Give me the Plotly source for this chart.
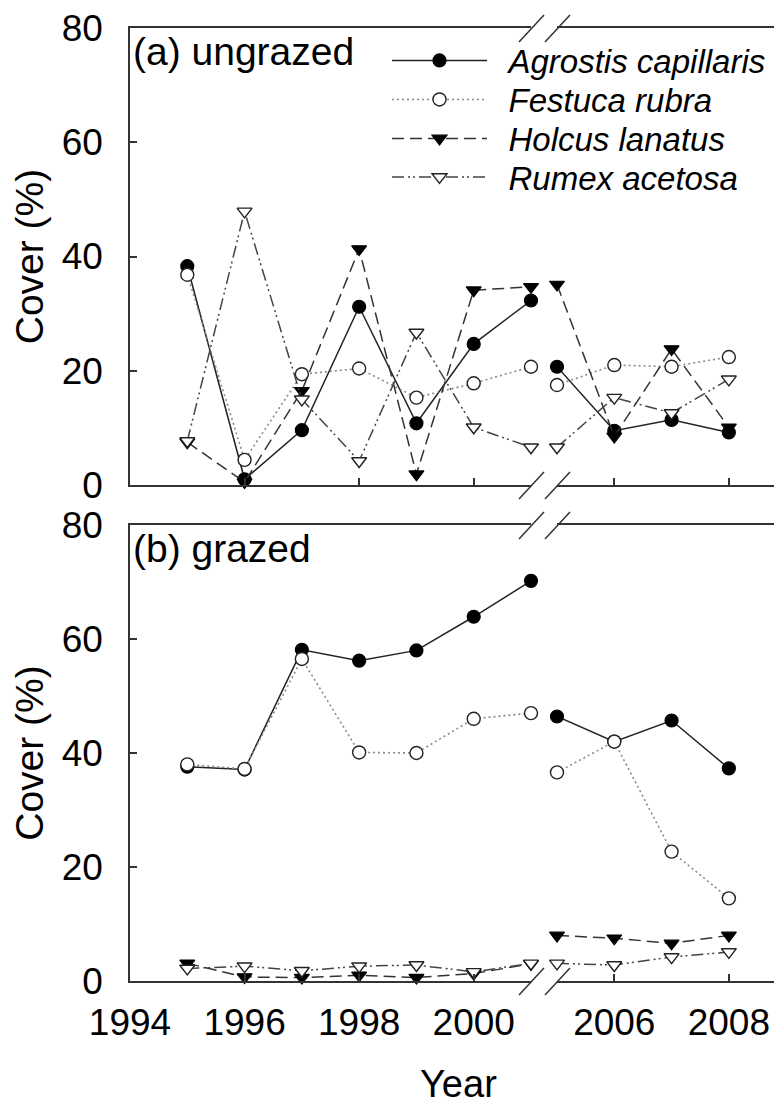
import plotly.graph_objects as go

# ---------------- data ----------------
years_early = [1995, 1996, 1997, 1998, 1999, 2000, 2001]
years_late = [2005, 2006, 2007, 2008]

species = ["Agrostis capillaris", "Festuca rubra", "Holcus lanatus", "Rumex acetosa"]

# (a) ungrazed
agrostis_ung_early = [38.3, 1.0, 9.6, 31.2, 10.8, 24.7, 32.3]
agrostis_ung_late = [20.7, 9.5, 11.4, 9.2]
festuca_ung_early = [36.8, 4.4, 19.4, 20.4, 15.3, 17.8, 20.7]
festuca_ung_late = [17.5, 21.0, 20.7, 22.4]
holcus_ung_early = [7.5, 0.5, 16.5, 41.3, 1.9, 34.1, 34.7]
holcus_ung_late = [35.1, 8.5, 23.8, 10.1]
rumex_ung_early = [7.7, 47.9, 15.0, 4.2, 26.7, 10.1, 6.6]
rumex_ung_late = [6.6, 15.3, 12.6, 18.5]

# (b) grazed
agrostis_gr_early = [37.6, 37.1, 58.1, 56.2, 58.0, 63.9, 70.2]
agrostis_gr_late = [46.4, 42.0, 45.7, 37.3]
festuca_gr_early = [38.0, 37.2, 56.5, 40.1, 40.0, 46.0, 47.0]
festuca_gr_late = [36.6, 42.0, 22.7, 14.5]
holcus_gr_early = [3.1, 0.7, 0.6, 1.0, 0.6, 1.3, 3.0]
holcus_gr_late = [8.0, 7.5, 6.6, 8.0]
rumex_gr_early = [2.2, 2.6, 1.8, 2.6, 2.8, 1.6, 3.1]
rumex_gr_late = [3.1, 2.8, 4.2, 5.1]

x_ticks_early = [1994, 1996, 1998, 2000]
x_ticks_late = [2006, 2008]
y_ticks = [0, 20, 40, 60, 80]

# ---------------- layout geometry ----------------
# the page body has an 8px margin, so the figure is laid out 8px smaller
OFF = 8
VIEW_W, VIEW_H = 782, 1104
W, H = VIEW_W - OFF, VIEW_H - OFF
ref_left, ref_right, ref_top, ref_bottom = 130, 781, 28, 981
L = ref_left - OFF
R = W - (ref_right - OFF)
T = ref_top - OFF
B = H - (ref_bottom - OFF)
PW, PH = W - L - R, H - T - B


def px_x(p):
    """reference-screen pixel x -> paper fraction"""
    return (p - OFF - L) / PW


def px_y(p):
    """reference-screen pixel y -> paper fraction"""
    return (ref_bottom - p) / PH


left_end_px = 531
right_start_px = 557
px_per_year = (left_end_px - ref_left) / 7.0
right_range_end = 2005 + (ref_right - right_start_px) / px_per_year

dom_left = [0, px_x(left_end_px)]
dom_right = [px_x(right_start_px), 1]
dom_a = [px_y(485), 1]
dom_b = [0, px_y(525)]

FONT = "Liberation Sans, Arial, sans-serif"
AX = "#333333"

styles = {
    "Agrostis capillaris": dict(line=dict(color="#222222", width=1.5, dash="solid"),
                                marker=dict(symbol="circle", size=13, color="black",
                                            line=dict(color="black", width=1.2))),
    "Festuca rubra": dict(line=dict(color="#8a8a8a", width=1.6, dash="2px,3px"),
                          marker=dict(symbol="circle", size=13, color="white",
                                      line=dict(color="#222222", width=1.4))),
    "Holcus lanatus": dict(line=dict(color="#333333", width=1.5, dash="12px,6px"),
                           marker=dict(symbol="triangle-down", size=13, color="black",
                                       line=dict(color="black", width=1.2))),
    "Rumex acetosa": dict(line=dict(color="#444444", width=1.5, dash="12px,4px,2px,3px,2px,4px"),
                          marker=dict(symbol="triangle-down", size=13, color="white",
                                      line=dict(color="#222222", width=1.4))),
}

panel_data = {
    "a": {
        "Agrostis capillaris": (agrostis_ung_early, agrostis_ung_late),
        "Festuca rubra": (festuca_ung_early, festuca_ung_late),
        "Holcus lanatus": (holcus_ung_early, holcus_ung_late),
        "Rumex acetosa": (rumex_ung_early, rumex_ung_late),
    },
    "b": {
        "Agrostis capillaris": (agrostis_gr_early, agrostis_gr_late),
        "Festuca rubra": (festuca_gr_early, festuca_gr_late),
        "Holcus lanatus": (holcus_gr_early, holcus_gr_late),
        "Rumex acetosa": (rumex_gr_early, rumex_gr_late),
    },
}

axes_ids = {"a": (("x", "y"), ("x2", "y2")), "b": (("x3", "y3"), ("x4", "y4"))}
legend_ids = ["legend", "legend2", "legend3", "legend4"]

fig = go.Figure()
for panel in ["a", "b"]:
    (xl, yl), (xr, yr) = axes_ids[panel]
    for i, sp in enumerate(species):
        early, late = panel_data[panel][sp]
        st = styles[sp]
        fig.add_trace(go.Scatter(
            x=years_early, y=early, xaxis=xl, yaxis=yl, mode="lines+markers",
            name="\u2002" + sp, line=st["line"], marker=st["marker"], cliponaxis=False,
            showlegend=(panel == "a"), legend=legend_ids[i], hoverinfo="x+y+name"))
        fig.add_trace(go.Scatter(
            x=years_late, y=late, xaxis=xr, yaxis=yr, mode="lines+markers",
            name=sp, line=st["line"], marker=st["marker"], cliponaxis=False,
            showlegend=False, hoverinfo="x+y+name"))

tickfont = dict(family=FONT, size=37, color="black")
common_x = dict(showline=True, linecolor=AX, linewidth=1.5, mirror=True, ticks="inside",
                ticklen=7, tickwidth=1.5, tickcolor=AX, showgrid=False, zeroline=False,
                tickfont=tickfont, ticklabelstandoff=8, ticklabeloverflow="allow")
common_y = dict(range=[0, 80], tickvals=y_ticks, showline=True, linecolor=AX, linewidth=1.5,
                ticks="inside", ticklen=7, tickwidth=1.5, tickcolor=AX, showgrid=False,
                zeroline=False, tickfont=tickfont, ticklabelstandoff=18,
                ticklabeloverflow="allow")
ytitle = dict(text="Cover (%)", font=dict(family=FONT, size=39), standoff=8)
right_y = dict(range=[0, 80], side="right", showline=True, linecolor=AX, linewidth=1.5,
               ticks="", showticklabels=False, showgrid=False, zeroline=False)

layout = dict(
    width=W, height=H, margin=dict(l=L, r=R, t=T, b=B),
    paper_bgcolor="white", plot_bgcolor="white",
    font=dict(family=FONT, color="black"),
    xaxis=dict(domain=dom_left, range=[1994, 2001], tickvals=x_ticks_early, anchor="y",
               showticklabels=False, **common_x),
    xaxis2=dict(domain=dom_right, range=[2005, right_range_end], tickvals=x_ticks_late,
                anchor="y2", showticklabels=False, **common_x),
    xaxis3=dict(domain=dom_left, range=[1994, 2001], tickvals=x_ticks_early, anchor="y3",
                **common_x),
    xaxis4=dict(domain=dom_right, range=[2005, right_range_end], tickvals=x_ticks_late,
                anchor="y4", **common_x),
    yaxis=dict(domain=dom_a, anchor="x", title=ytitle, **common_y),
    yaxis2=dict(domain=dom_a, anchor="x2", matches="y", **right_y),
    yaxis3=dict(domain=dom_b, anchor="x3", title=ytitle, **common_y),
    yaxis4=dict(domain=dom_b, anchor="x4", matches="y3", **right_y),
)

legend_rows_px = [60.5, 99.5, 138.5, 177]
for lid, row in zip(legend_ids, legend_rows_px):
    layout[lid] = dict(x=px_x(387), y=px_y(row), xanchor="left", yanchor="middle",
                       bgcolor="rgba(0,0,0,0)", borderwidth=0, itemwidth=95,
                       font=dict(family=FONT, size=33, style="italic", color="black"),
                       tracegroupgap=0)

fig.update_layout(**layout)

# panel labels and x title
fig.add_annotation(text="(a) ungrazed", xref="paper", yref="paper", x=px_x(131), y=px_y(28),
                   xanchor="left", yanchor="top", showarrow=False,
                   font=dict(family=FONT, size=39, color="black"))
fig.add_annotation(text="(b) grazed", xref="paper", yref="paper", x=px_x(131), y=px_y(525),
                   xanchor="left", yanchor="top", showarrow=False,
                   font=dict(family=FONT, size=39, color="black"))
fig.add_annotation(text="Year", xref="paper", yref="paper", x=px_x(458), y=px_y(1084),
                   xanchor="center", yanchor="middle", showarrow=False,
                   font=dict(family=FONT, size=38, color="black"))

# axis-break slashes (decoration)
for ypx in [28, 485, 525, 981]:
    for xc in [left_end_px, right_start_px]:
        fig.add_shape(type="line", xref="paper", yref="paper",
                      x0=px_x(xc - 12), y0=px_y(ypx + 14), x1=px_x(xc + 13), y1=px_y(ypx - 13),
                      line=dict(color=AX, width=1.5))

fig.write_html("out.html")
